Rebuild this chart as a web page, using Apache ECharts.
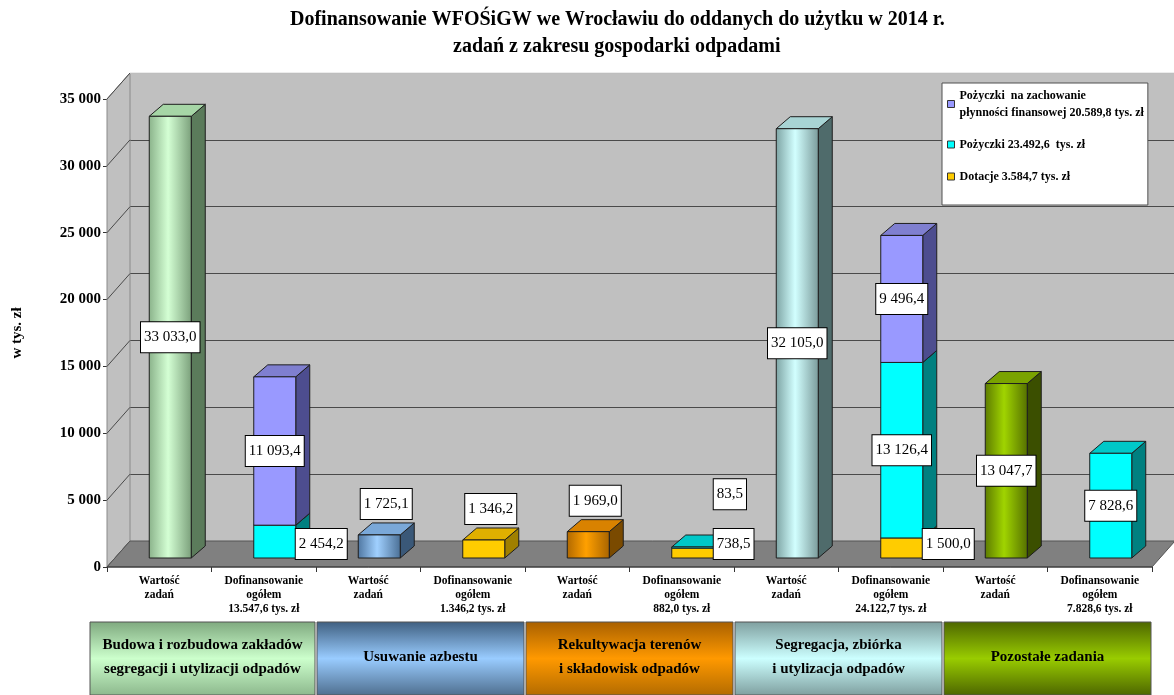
<!DOCTYPE html>
<html>
<head>
<meta charset="utf-8">
<title>Dofinansowanie WFOŚiGW 2014</title>
<script src="https://cdn.jsdelivr.net/npm/echarts@6/dist/echarts.min.js"></script>
<style>
  html, body { margin: 0; padding: 0; background: #fff; }
  #main { width: 1174px; height: 695px; }
</style>
</head>
<body>
<div id="main"></div>
<script>
// dane
var categories = [
  'Wartość\nzadań', 'Dofinansowanie\nogółem\n13.547,6 tys. zł',
  'Wartość\nzadań', 'Dofinansowanie\nogółem\n1.346,2 tys. zł',
  'Wartość\nzadań', 'Dofinansowanie\nogółem\n882,0 tys. zł',
  'Wartość\nzadań', 'Dofinansowanie\nogółem\n24.122,7 tys. zł',
  'Wartość\nzadań', 'Dofinansowanie\nogółem\n7.828,6 tys. zł'
];
var groups = [
  'Budowa i rozbudowa zakładów\nsegregacji i utylizacji odpadów',
  'Usuwanie azbestu',
  'Rekultywacja terenów\ni składowisk odpadów',
  'Segregacja, zbiórka\ni utylizacja odpadów',
  'Pozostałe zadania'
];
var wartoscZadan = [33033.0, null, 1725.1, null, 1969.0, null, 32105.0, null, 13047.7, null];
var dotacje      = [null, null, null, 1346.2, null, 738.5, null, 1500.0, null, null];
var pozyczki     = [null, 2454.2, null, null, null, 83.5, null, 13126.4, null, 7828.6];
var plynnosc     = [null, 11093.4, null, null, null, null, null, 9496.4, null, null];
var yTicks = [0, 5000, 10000, 15000, 20000, 25000, 30000, 35000];

var nameDotacje = 'Dotacje 3.584,7 tys. zł';
var namePozyczki = 'Pożyczki 23.492,6  tys. zł';
var namePlynnosc = 'Pożyczki  na zachowanie\npłynności finansowej 20.589,8 tys. zł';
var titleLines = [
  'Dofinansowanie WFOŚiGW we Wrocławiu do oddanych do użytku w 2014 r.',
  'zadań z zakresu gospodarki odpadami'
];

var FONT = '"Liberation Serif", "Times New Roman", serif';
var BAR_W = 42, BAR_DX = 11, BAR_DY = 9, DEPTH_X = 14, DEPTH_Y = 12;
var WALL_X = 23, WALL_Y = 26;
var TITLE_CENTER = 617, TITLE_SIZE = 20;

function fmt(v) {
  var parts = v.toFixed(1).split('.');
  return parts[0].replace(/\B(?=(\d{3})+(?!\d))/g, ' ') + ',' + parts[1];
}

// szerokosc tekstu, zeby wysrodkowac tytul tak jak w oryginale
function textWidth(str, font) {
  var ctx = document.createElement('canvas').getContext('2d');
  ctx.font = font;
  return ctx.measureText(str).width;
}

// style slupkow "Wartosc zadan" wg grupy
var taskStyles = [
  { front: ['#8ab28a', '#d4ffd4', '#7a9f7a'], side: '#5b7b5b', top: '#a6d6a6' },
  { front: ['#4f76a0', '#a0d0ff', '#4a6f95'], side: '#3a5878', top: '#7aa8d8' },
  { front: ['#b06800', '#ffa000', '#a86400'], side: '#7a4a00', top: '#d98200' },
  { front: ['#7da3a3', '#d2ffff', '#7a9a9a'], side: '#4f6b6b', top: '#a8d4d4' },
  { front: ['#5c7a00', '#a0d400', '#557000'], side: '#3b4f00', top: '#7aa300' }
];
var groupColors = [
  ['#7fa97f', '#ccffcc', '#8db88d'],
  ['#3f5f80', '#99ccff', '#4f6f8f'],
  ['#a86000', '#ff9900', '#b36b00'],
  ['#7f9f9f', '#ccffff', '#7f9f9f'],
  ['#4d6600', '#99cc00', '#4d6600']
];

// stos: dotacje -> pozyczki -> plynnosc
var stackOrder = [dotacje, pozyczki, plynnosc];
function stackData(k) {
  var out = [];
  stackOrder[k].forEach(function (v, i) {
    if (v == null) return;
    var lo = 0, isTop = 1;
    for (var j = 0; j < k; j++) if (stackOrder[j][i] != null) lo += stackOrder[j][i];
    for (var j2 = k + 1; j2 < stackOrder.length; j2++) if (stackOrder[j2][i] != null) isTop = 0;
    out.push([i, lo, lo + v, isTop, v]);
  });
  return out;
}
var taskData = [];
wartoscZadan.forEach(function (v, i) {
  if (v != null) taskData.push([i, 0, v, 1, v]);
});

function makeBarRenderer(styleFor) {
  return function (params, api) {
    var cat = api.value(0), lo = api.value(1), hi = api.value(2);
    var isTop = api.value(3), val = api.value(4);
    var p0 = api.coord([cat, lo]), p1 = api.coord([cat, hi]);
    var cx = p0[0] + BAR_DX;
    var x0 = cx - BAR_W / 2, x1 = cx + BAR_W / 2;
    var yb = p0[1] - BAR_DY, yt = p1[1] - BAR_DY;
    var h = yb - yt;
    var s = styleFor(cat);
    var stroke = { stroke: '#1e1e1e', lineWidth: 1 };
    var frontFill = Array.isArray(s.front)
      ? new echarts.graphic.LinearGradient(0, 0, 1, 0, [
          { offset: 0, color: s.front[0] },
          { offset: 0.45, color: s.front[1] },
          { offset: 1, color: s.front[2] }])
      : s.front;
    var children = [
      { type: 'polygon', shape: { points: [[x1, yb], [x1 + DEPTH_X, yb - DEPTH_Y], [x1 + DEPTH_X, yt - DEPTH_Y], [x1, yt]] },
        style: Object.assign({ fill: s.side }, stroke) },
      { type: 'polygon', shape: { points: [[x0, yt], [x1, yt], [x1 + DEPTH_X, yt - DEPTH_Y], [x0 + DEPTH_X, yt - DEPTH_Y]] },
        style: Object.assign({ fill: s.top }, stroke) },
      { type: 'rect', shape: { x: x0, y: yt, width: BAR_W, height: h },
        style: Object.assign({ fill: frontFill }, stroke) }
    ];
    var lx, ly, align = 'center';
    if (h >= 40) {
      lx = cx; ly = (yt + yb) / 2;
    } else if (isTop && lo === 0) {
      lx = cx + 7; ly = yt - DEPTH_Y - 19;
    } else {
      lx = x1; ly = yb - 14 - (lo > 0 ? 40 : 0); align = 'left';
    }
    children.push({
      type: 'text', x: lx, y: ly, z2: 50,
      style: {
        text: fmt(val), font: '15px ' + FONT, fill: '#000',
        backgroundColor: '#fff', borderColor: '#000', borderWidth: 1,
        padding: [7, 3, 6, 3], lineHeight: 17,
        align: align, verticalAlign: 'middle'
      }
    });
    return { type: 'group', children: children };
  };
}

function renderWalls(params, api) {
  var cs = params.coordSys;
  var fx = cs.x, rx = cs.x + cs.width;
  var y0 = api.coord([0, yTicks[0]])[1];
  var yTop = api.coord([0, yTicks[yTicks.length - 1]])[1];
  var children = [
    { type: 'polygon', shape: { points: [[fx, yTop], [fx + WALL_X, yTop - WALL_Y], [fx + WALL_X, y0 - WALL_Y], [fx, y0]] },
      style: { fill: '#c0c0c0', stroke: '#8a8a8a', lineWidth: 1 } },
    { type: 'line', shape: { x1: fx + WALL_X, y1: yTop - WALL_Y, x2: api.getWidth(), y2: yTop - WALL_Y },
      style: { stroke: '#e6e6e6', lineWidth: 1.5 } }
  ];
  yTicks.forEach(function (t) {
    var y = api.coord([0, t])[1];
    children.push({ type: 'line', shape: { x1: fx, y1: y, x2: fx + WALL_X, y2: y - WALL_Y },
      style: { stroke: '#4a4a4a', lineWidth: 1 } });
  });
  children.push({ type: 'polygon', shape: { points: [[fx, y0], [rx, y0], [rx + WALL_X, y0 - WALL_Y], [fx + WALL_X, y0 - WALL_Y]] },
    style: { fill: '#808080', stroke: '#555', lineWidth: 1 } });
  children.push({ type: 'line', shape: { x1: fx, y1: y0, x2: rx, y2: y0 },
    style: { stroke: '#333', lineWidth: 1 } });
  return { type: 'group', children: children };
}

function renderGroups(params, api) {
  var g = api.value(0);
  var band = api.size([1, 0])[0];
  var c = api.coord([2 * g, 0]);
  var left = c[0] - band / 2 + 1;
  var top = c[1] + 55;
  var w = band * 2 - 2, h = api.getHeight() - top;
  if (g === 0) { left -= 18; w += 18; }
  var col = groupColors[g];
  return {
    type: 'group',
    children: [
      { type: 'rect', shape: { x: left, y: top, width: w, height: h },
        style: {
          fill: new echarts.graphic.LinearGradient(0, 0, 0, 1, [
            { offset: 0, color: col[0] }, { offset: 0.5, color: col[1] }, { offset: 1, color: col[2] }]),
          stroke: '#555', lineWidth: 1
        } },
      { type: 'text', x: left + w / 2, y: top + h / 2 - 1,
        style: { text: groups[g], font: 'bold 15px ' + FONT, fill: '#000', lineHeight: 24,
          align: 'center', verticalAlign: 'middle' } }
    ]
  };
}

var myChart = echarts.init(document.getElementById('main'));
var option = {
  backgroundColor: '#fff',
  animation: false,
  title: titleLines.map(function (line, i) {
    return {
      text: line,
      left: Math.round(TITLE_CENTER - textWidth(line, 'bold ' + TITLE_SIZE + 'px ' + FONT) / 2),
      top: 6 + i * 27,
      padding: 0,
      textStyle: { fontFamily: FONT, fontWeight: 'bold', fontSize: TITLE_SIZE, lineHeight: 27, color: '#000' }
    };
  }),
  legend: {
    orient: 'vertical', left: 942, top: 83,
    data: [namePlynnosc, namePozyczki, nameDotacje],
    selectedMode: false,
    backgroundColor: '#fff', borderColor: '#505050', borderWidth: 1,
    padding: [4, 4, 20, 5],
    itemWidth: 7, itemHeight: 7, itemGap: 15,
    icon: 'rect',
    itemStyle: { borderColor: '#333', borderWidth: 1 },
    textStyle: { fontFamily: FONT, fontWeight: 'bold', fontSize: 12, lineHeight: 17, color: '#000' }
  },
  grid: [
    { left: 107 + WALL_X, right: 0, top: 99 - WALL_Y, bottom: 128 + WALL_Y,
      show: true, backgroundColor: '#c0c0c0', borderWidth: 0 },
    { left: 107, right: 22, top: 99, bottom: 128 }
  ],
  xAxis: [
    { gridIndex: 0, type: 'value', show: false },
    { gridIndex: 1, type: 'category', data: categories,
      axisLine: { show: false },
      axisTick: { show: true, length: 5, interval: 0, lineStyle: { color: '#333' } },
      axisLabel: { interval: 0, fontFamily: FONT, fontWeight: 'bold', fontSize: 11.5,
        lineHeight: 14, margin: 7, color: '#000' } }
  ],
  yAxis: [
    { gridIndex: 0, type: 'value', min: yTicks[0], max: yTicks[yTicks.length - 1], interval: yTicks[1] - yTicks[0],
      axisLine: { show: false }, axisTick: { show: false }, axisLabel: { show: false },
      splitLine: { show: true, lineStyle: { color: '#4a4a4a', width: 1 } } },
    { gridIndex: 1, type: 'value', min: yTicks[0], max: yTicks[yTicks.length - 1], interval: yTicks[1] - yTicks[0],
      name: 'w tys. zł', nameLocation: 'middle', nameGap: 82,
      nameTextStyle: { fontFamily: FONT, fontWeight: 'bold', fontSize: 15, color: '#000' },
      axisLine: { show: true, lineStyle: { color: '#333' } },
      axisTick: { show: true, length: 4, lineStyle: { color: '#333' } },
      axisLabel: { fontFamily: FONT, fontWeight: 'bold', fontSize: 15, color: '#000', margin: 6,
        formatter: function (v) { return String(v).replace(/\B(?=(\d{3})+(?!\d))/g, ' '); } },
      splitLine: { show: false } }
  ],
  series: [
    { name: 'walls', type: 'custom', xAxisIndex: 1, yAxisIndex: 1, silent: true, z: 1,
      renderItem: renderWalls, data: [[0, 0]] },
    { name: 'Wartość zadań', type: 'custom', xAxisIndex: 1, yAxisIndex: 1, z: 3,
      renderItem: makeBarRenderer(function (cat) { return taskStyles[Math.floor(cat / 2)]; }),
      encode: { x: 0, y: [1, 2] }, data: taskData },
    { name: nameDotacje, type: 'custom', xAxisIndex: 1, yAxisIndex: 1, z: 3,
      itemStyle: { color: '#ffcc00' },
      renderItem: makeBarRenderer(function () { return { front: '#ffcc00', side: '#a08000', top: '#e0b000' }; }),
      encode: { x: 0, y: [1, 2] }, data: stackData(0) },
    { name: namePozyczki, type: 'custom', xAxisIndex: 1, yAxisIndex: 1, z: 3,
      itemStyle: { color: '#00ffff' },
      renderItem: makeBarRenderer(function () { return { front: '#00ffff', side: '#008080', top: '#00c8c8' }; }),
      encode: { x: 0, y: [1, 2] }, data: stackData(1) },
    { name: namePlynnosc, type: 'custom', xAxisIndex: 1, yAxisIndex: 1, z: 3,
      itemStyle: { color: '#9999ff' },
      renderItem: makeBarRenderer(function () { return { front: '#9999ff', side: '#4d4d8f', top: '#7f7fd0' }; }),
      encode: { x: 0, y: [1, 2] }, data: stackData(2) },
    { name: 'groups', type: 'custom', xAxisIndex: 1, yAxisIndex: 1, silent: true, z: 2,
      renderItem: renderGroups, data: groups.map(function (g, i) { return [i, 0]; }) }
  ]
};
myChart.setOption(option);
</script>
</body>
</html>
